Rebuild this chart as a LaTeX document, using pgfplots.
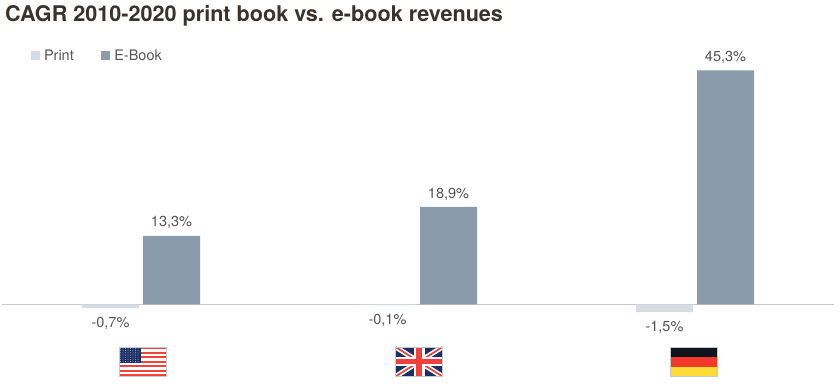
\documentclass[border=0pt]{standalone}
\usepackage{pgfplots}
\pgfplotsset{compat=1.18}
\usepackage{fontspec}
\setmainfont{TeX Gyre Heros}
\definecolor{printc}{HTML}{D5DCE3}
\definecolor{ebookc}{HTML}{8A9BAB}
\definecolor{txt}{HTML}{555555}
\definecolor{titlec}{HTML}{3A322E}
\definecolor{axisc}{HTML}{C9C9C9}
\definecolor{fred}{HTML}{F2403C}
\definecolor{fblue}{HTML}{1C2F66}
\definecolor{gblack}{HTML}{101420}
\definecolor{gred}{HTML}{F23A2A}
\definecolor{ggold}{HTML}{FDDD35}
\begin{document}
\begin{tikzpicture}[x=1pt,y=1pt]
\useasboundingbox (0,0) rectangle (840,390);
\fill[white] (0,0) rectangle (840,390);
\begin{axis}[
  at={(2pt,70pt)},anchor=south west,
  scale only axis,width=832pt,height=273.8pt,
  xmin=-0.5018,xmax=2.5018,ymin=-3,ymax=50,
  axis y line=none,
  axis x line=middle,
  axis line style={draw=axisc,line width=1.2pt,-},
  xtick=\empty,ytick=\empty,
  clip=false,
  ybar,
  bar width=57pt,
  point meta=y,
  nodes near coords={\pgfmathprintnumber[assume math mode=true,fixed,fixed zerofill,precision=1,use comma]{\pgfplotspointmeta}\%},
  nodes near coords style={font=\fontsize{14.5}{16}\selectfont,text=txt,inner sep=0pt},
  legend style={at={(29pt,264pt)},anchor=west,draw=none,fill=none,font=\fontsize{14.5}{16}\selectfont,text=txt,
     legend columns=2,inner sep=0pt,outer sep=0pt,
     /tikz/every even column/.append style={column sep=27.5pt},
     nodes={inner sep=0pt}},
  legend cell align=left,
  legend image code/.code={\fill[#1] (0pt,-4.5pt) rectangle (9pt,4.5pt);},
]
\addplot+[bar shift=-30.5pt,draw=none,fill=printc,
   nodes near coords style={yshift=-9pt}] coordinates {(0,-0.7) (1,-0.1) (2,-1.5)};
\addlegendentry{\hspace{4pt}Print}
\addplot+[bar shift=30.5pt,draw=none,fill=ebookc,
   nodes near coords style={yshift=6.5pt}] coordinates {(0,13.3) (1,18.9) (2,45.3)};
\addlegendentry{\hspace{4pt}E-Book}
\end{axis}
\node[anchor=base west,inner sep=0pt,text=titlec,font=\bfseries\fontsize{21.6}{24}\selectfont] at (5,368) {CAGR 2010-2020 print book vs. e-book revenues};
% flags
\begin{scope}[shift={(119,13.5)}]
  \fill[white] (0,0) rectangle (47,29.5);
  \foreach \i in {0,2,4,6,8,10,12}{\fill[fred] (0,{29.5-\i*29.5/13-29.5/13}) rectangle (47,{29.5-\i*29.5/13});}
  \fill[fblue] (0,29.5) rectangle (22,29.5-16);
  \foreach \a in {1.5,4,...,21}{\foreach \b in {1.5,3.7,...,15}{\fill[white,opacity=.7] (\a,29.5-\b) circle (0.45);}}
  \draw[axisc,line width=0.4pt] (0,0) rectangle (47,29.5);
\end{scope}
\begin{scope}[shift={(395.5,13.5)}]
  \fill[fblue] (0,0) rectangle (47,29.5);
  \begin{scope}
    \clip (0,0) rectangle (47,29.5);
    \draw[white,line width=5pt] (0,0)--(47,29.5) (0,29.5)--(47,0);
    \draw[fred,line width=1.7pt] (0,0)--(47,29.5) (0,29.5)--(47,0);
  \end{scope}
  \fill[white] (18,0) rectangle (29,29.5);
  \fill[white] (0,10) rectangle (47,19.5);
  \fill[fred] (20.5,0) rectangle (26.5,29.5);
  \fill[fred] (0,12) rectangle (47,17.5);
  \draw[axisc,line width=0.4pt] (0,0) rectangle (47,29.5);
\end{scope}
\begin{scope}[shift={(670,13.5)}]
  \fill[gblack] (0,19.7) rectangle (47,29.5);
  \fill[gred] (0,9.8) rectangle (47,19.7);
  \fill[ggold] (0,0) rectangle (47,9.8);
  \draw[axisc,line width=0.4pt] (0,0) rectangle (47,29.5);
\end{scope}
\end{tikzpicture}
\end{document}
